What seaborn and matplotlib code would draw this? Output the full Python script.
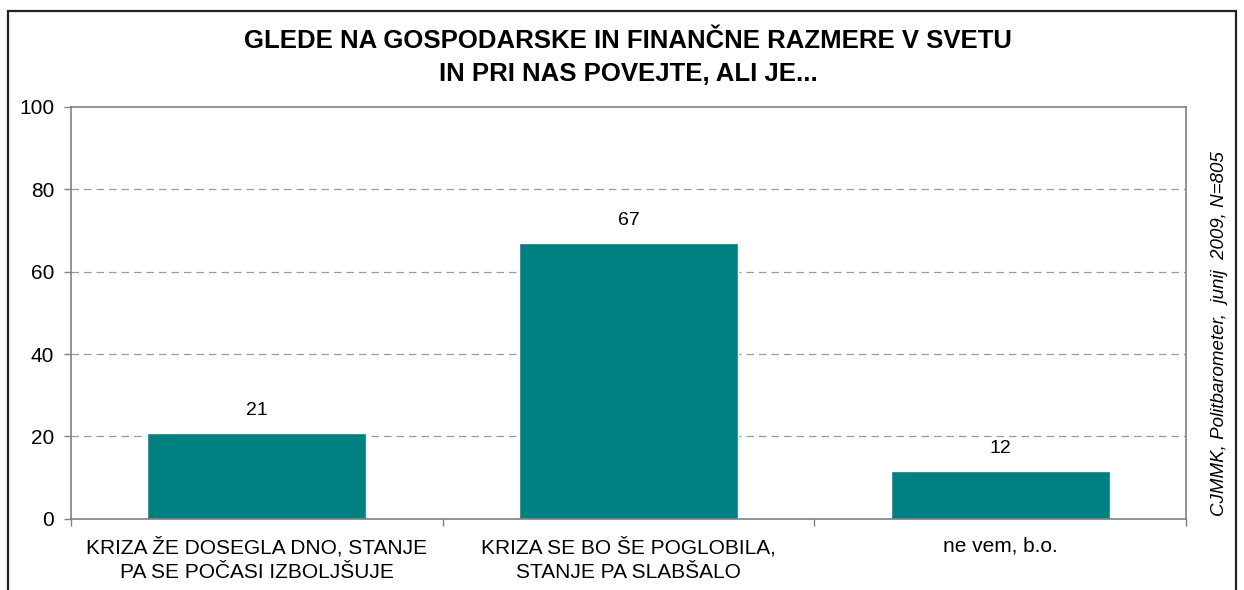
import matplotlib
matplotlib.use("Agg")
import matplotlib.pyplot as plt
import matplotlib.patches as mpatches
import seaborn as sns
import pandas as pd

categories = ["KRIZA ŽE DOSEGLA DNO, STANJE\nPA SE POČASI IZBOLJŠUJE",
              "KRIZA SE BO ŠE POGLOBILA,\nSTANJE PA SLABŠALO",
              "ne vem, b.o."]
values = [20.8, 67.0, 11.6]
labels = ["21", "67", "12"]
yticks = [0, 20, 40, 60, 80, 100]
title = "GLEDE NA GOSPODARSKE IN FINANČNE RAZMERE V SVETU\nIN PRI NAS POVEJTE, ALI JE..."
source = "CJMMK, Politbarometer,  junij  2009, N=805"

sns.set_theme(style="white")
plt.rcParams['font.family'] = ['Liberation Sans', 'DejaVu Sans']

fig = plt.figure(figsize=(12.44, 5.9), dpi=100)
ax = fig.add_axes([71/1244, 1-518.7/590, (1186-71)/1244, (518.7-107)/590])

df = pd.DataFrame({"cat": categories, "val": values})
sns.barplot(data=df, x="cat", y="val", color="#008080", saturation=1, width=0.59, ax=ax)

ax.set_xlim(-0.5, 2.5)
ax.set_ylim(0, 100)
ax.set_yticks(yticks)
ax.set_yticklabels([str(t) for t in yticks], fontsize=15, color="black")
ax.set_xlabel("")
ax.set_ylabel("")
ax.tick_params(axis="x", which="major", length=0, pad=13, labelsize=15, labelcolor="black")
for lbl in ax.get_xticklabels():
    lbl.set_linespacing(1.4)
ax.set_xticks([-0.5, 0.5, 1.5, 2.5], minor=True)
ax.tick_params(axis="x", which="minor", length=5, color="#808080", width=1, direction="out", bottom=True)
ax.tick_params(axis="y", length=5, color="#808080", width=1, direction="out", left=True, pad=7)

for s in ax.spines.values():
    s.set_color("#808080")
    s.set_linewidth(1.2)
    s.set_visible(True)

for t in yticks[1:-1]:
    ax.axhline(t, color="#9a9a9a", linestyle=(0, (6, 4)), linewidth=0.9, zorder=0)

for i, (v, lab) in enumerate(zip(values, labels)):
    ax.text(i, v + 3.3, lab, ha="center", va="bottom", fontsize=14, color="black")

fig.text(628/1244, 1-29/590, title, ha="center", va="top", fontsize=18.5, fontweight="bold",
         linespacing=1.45, color="black")
fig.text(1219/1244, 1-334/590, source, rotation=90, ha="center", va="center",
         fontsize=13.5, style="italic", color="black")

rect = mpatches.Rectangle((8/1244, -0.05), (1236-8)/1244, 1.05 - 10.5/590,
                          transform=fig.transFigure, fill=False, edgecolor="#222222",
                          linewidth=1.6, clip_on=False)
fig.patches.append(rect)

fig.savefig("out.png", dpi=100, facecolor="white")
